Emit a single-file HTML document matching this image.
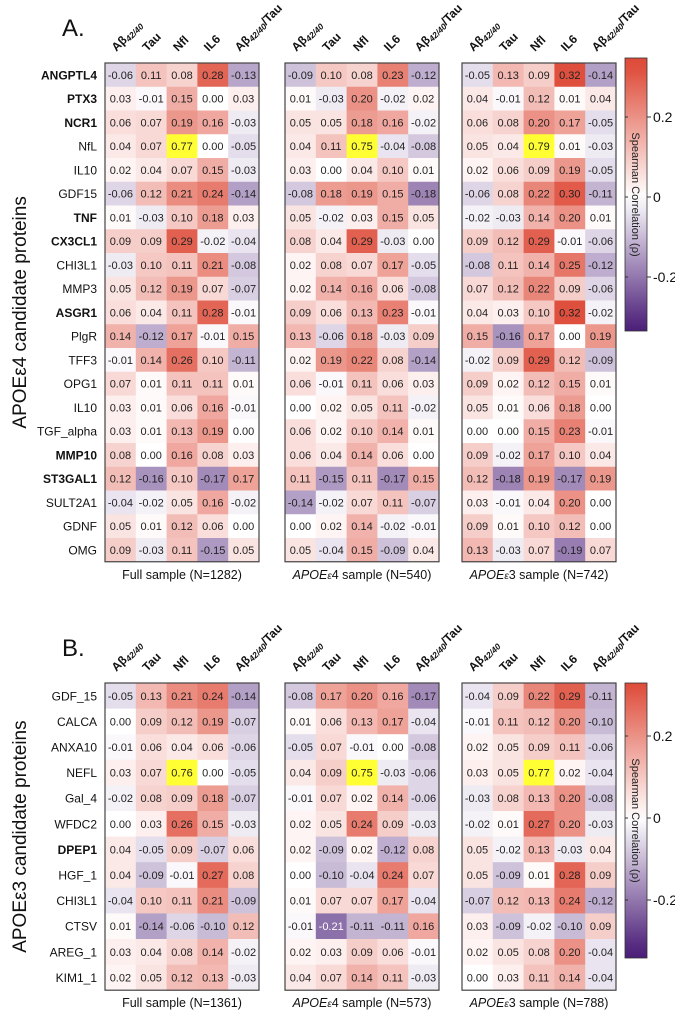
<!DOCTYPE html>
<html><head><meta charset="utf-8">
<style>
html,body{margin:0;padding:0;background:#fff;}
svg{display:block;font-family:"Liberation Sans",Arial,sans-serif;}
</style></head>
<body>
<svg id="fig" width="675" height="1015" viewBox="0 0 675 1015" xmlns="http://www.w3.org/2000/svg"></svg>
<script>
const columnLabels = ["Aβ|42/40","Tau","Nfl","IL6","Aβ|42/40|/Tau"];
const proteinsA = ["ANGPTL4","PTX3","NCR1","NfL","IL10","GDF15","TNF","CX3CL1","CHI3L1","MMP3","ASGR1","PlgR","TFF3","OPG1","IL10","TGF_alpha","MMP10","ST3GAL1","SULT2A1","GDNF","OMG"];
const boldA = ["ANGPTL4","PTX3","NCR1","TNF","CX3CL1","ASGR1","MMP10","ST3GAL1"];
const fullA = [[-0.06,0.11,0.08,0.28,-0.13],[0.03,-0.01,0.15,0.00,0.03],[0.06,0.07,0.19,0.16,-0.03],[0.04,0.07,0.77,0.00,-0.05],[0.02,0.04,0.07,0.15,-0.03],[-0.06,0.12,0.21,0.24,-0.14],[0.01,-0.03,0.10,0.18,0.03],[0.09,0.09,0.29,-0.02,-0.04],[-0.03,0.10,0.11,0.21,-0.08],[0.05,0.12,0.19,0.07,-0.07],[0.06,0.04,0.11,0.28,-0.01],[0.14,-0.12,0.17,-0.01,0.15],[-0.01,0.14,0.26,0.10,-0.11],[0.07,0.01,0.11,0.11,0.01],[0.03,0.01,0.06,0.16,-0.01],[0.03,0.01,0.13,0.19,0.00],[0.08,0.00,0.16,0.08,0.03],[0.12,-0.16,0.10,-0.17,0.17],[-0.04,-0.02,0.05,0.16,-0.02],[0.05,0.01,0.12,0.06,0.00],[0.09,-0.03,0.11,-0.15,0.05]];
const e4A = [[-0.09,0.10,0.08,0.23,-0.12],[0.01,-0.03,0.20,-0.02,0.02],[0.05,0.05,0.18,0.16,-0.02],[0.04,0.11,0.75,-0.04,-0.08],[0.03,0.00,0.04,0.10,0.01],[-0.08,0.18,0.19,0.15,-0.18],[0.05,-0.02,0.03,0.15,0.05],[0.08,0.04,0.29,-0.03,0.00],[0.02,0.08,0.07,0.17,-0.05],[0.02,0.14,0.16,0.06,-0.08],[0.09,0.06,0.13,0.23,-0.01],[0.13,-0.06,0.18,-0.03,0.09],[0.02,0.19,0.22,0.08,-0.14],[0.06,-0.01,0.11,0.06,0.03],[0.00,0.02,0.05,0.11,-0.02],[0.06,0.02,0.10,0.14,0.01],[0.06,0.04,0.14,0.06,0.00],[0.11,-0.15,0.11,-0.17,0.15],[-0.14,-0.02,0.07,0.11,-0.07],[0.00,0.02,0.14,-0.02,-0.01],[0.05,-0.04,0.15,-0.09,0.04]];
const e3A = [[-0.05,0.13,0.09,0.32,-0.14],[0.04,-0.01,0.12,0.01,0.04],[0.06,0.08,0.20,0.17,-0.05],[0.05,0.04,0.79,0.01,-0.03],[0.02,0.06,0.09,0.19,-0.05],[-0.06,0.08,0.22,0.30,-0.11],[-0.02,-0.03,0.14,0.20,0.01],[0.09,0.12,0.29,-0.01,-0.06],[-0.08,0.11,0.14,0.25,-0.12],[0.07,0.12,0.22,0.09,-0.06],[0.04,0.03,0.10,0.32,-0.02],[0.15,-0.16,0.17,0.00,0.19],[-0.02,0.09,0.29,0.12,-0.09],[0.09,0.02,0.12,0.15,0.01],[0.05,0.01,0.06,0.18,0.00],[0.00,0.00,0.15,0.23,-0.01],[0.09,-0.02,0.17,0.10,0.04],[0.12,-0.18,0.19,-0.17,0.19],[0.03,-0.01,0.04,0.20,0.00],[0.09,0.01,0.10,0.12,0.00],[0.13,-0.03,0.07,-0.19,0.07]];
const proteinsB = ["GDF_15","CALCA","ANXA10","NEFL","Gal_4","WFDC2","DPEP1","HGF_1","CHI3L1","CTSV","AREG_1","KIM1_1"];
const boldB = ["DPEP1"];
const fullB = [[-0.05,0.13,0.21,0.24,-0.14],[0.00,0.09,0.12,0.19,-0.07],[-0.01,0.06,0.04,0.06,-0.06],[0.03,0.07,0.76,0.00,-0.05],[-0.02,0.08,0.09,0.18,-0.07],[0.00,0.03,0.26,0.15,-0.03],[0.04,-0.05,0.09,-0.07,0.06],[0.04,-0.09,-0.01,0.27,0.08],[-0.04,0.10,0.11,0.21,-0.09],[0.01,-0.14,-0.06,-0.10,0.12],[0.03,0.04,0.08,0.14,-0.02],[0.02,0.05,0.12,0.13,-0.03]];
const e4B = [[-0.08,0.17,0.20,0.16,-0.17],[0.01,0.06,0.13,0.17,-0.04],[-0.05,0.07,-0.01,0.00,-0.08],[0.04,0.09,0.75,-0.03,-0.06],[-0.01,0.07,0.02,0.14,-0.06],[0.02,0.05,0.24,0.09,-0.03],[0.02,-0.09,0.02,-0.12,0.08],[0.00,-0.10,-0.04,0.24,0.07],[0.01,0.07,0.07,0.17,-0.04],[-0.01,-0.21,-0.11,-0.11,0.16],[0.02,0.03,0.09,0.06,-0.01],[0.04,0.07,0.14,0.11,-0.03]];
const e3B = [[-0.04,0.09,0.22,0.29,-0.11],[-0.01,0.11,0.12,0.20,-0.10],[0.02,0.05,0.09,0.11,-0.06],[0.03,0.05,0.77,0.02,-0.04],[-0.03,0.08,0.13,0.20,-0.08],[-0.02,0.01,0.27,0.20,-0.03],[0.05,-0.02,0.13,-0.03,0.04],[0.05,-0.09,0.01,0.28,0.09],[-0.07,0.12,0.13,0.24,-0.12],[0.03,-0.09,-0.02,-0.10,0.09],[0.02,0.05,0.08,0.20,-0.04],[0.00,0.03,0.11,0.14,-0.04]];
const colorbarTicks = [0.2, 0, -0.2];
const colorbarTickLabels = ["0.2","0","-0.2"];
const sampleTitlesA = ["Full sample (N=1282)","4 sample (N=540)","3 sample (N=742)"];
const sampleTitlesB = ["Full sample (N=1361)","4 sample (N=573)","3 sample (N=788)"];

const NS="http://www.w3.org/2000/svg";
const svg=document.getElementById('fig');
function mk(tag,attrs,parent){const e=document.createElementNS(NS,tag);for(const k in attrs)e.setAttribute(k,attrs[k]);(parent||svg).appendChild(e);return e;}
const VMAX=0.33;
function color(v){
  if(v>0.4) return "#ffff33";
  let t=Math.max(-1,Math.min(1,v/VMAX));
  let c;
  if(t>=0){c=[255+(222-255)*t,255+(74-255)*t,255+(56-255)*t];}
  else{t=-t;c=[255+(75-255)*t,255+(30-255)*t,255+(120-255)*t];}
  return "rgb("+c.map(x=>Math.round(x)).join(",")+")";
}
const heatX=[105,285,462], heatW=154, colW=heatW/5;

function colHeader(g,x,y,label){
  const parts=label.split("|");
  const t=mk('text',{x:x,y:y,transform:`rotate(-45 ${x} ${y})`,'font-size':'12','font-weight':'bold',fill:'#111'},g);
  
  
  const a=mk('tspan',{},t);a.textContent=parts[0];
  if(parts.length>1){const s=mk('tspan',{'font-size':'8.5','font-style':'italic','dy':'2'},t);s.textContent=parts[1];}
  if(parts.length>2){const r=mk('tspan',{'dy':'-2'},t);r.textContent=parts[2];}
}

function panel(cfg){
  const {top,rowH,proteins,bold,sets,titles,letter,ytitle,cbTop,cbZero,cbPx,cbBottom}=cfg;
  const g=mk('g',{});
  
  
  const L=mk('text',{x:62,y:top-27,'font-size':'24',fill:'#111'},g);L.textContent=letter+".";
  
  
  const nRows=proteins.length, H=nRows*rowH;
  const yc=top+H/2;
  const yt=mk('text',{x:26,y:yc,transform:`rotate(-90 26 ${yc})`,'text-anchor':'middle','font-size':'19',fill:'#111'},g);
  yt.textContent=ytitle;
  
  
  proteins.forEach((p,i)=>{
    const t=mk('text',{x:97,y:top+i*rowH+rowH/2+4.5,'text-anchor':'end','font-size':'12','font-weight':bold.includes(p)?'bold':'normal',fill:'#111'},g);
    t.textContent=p;
    
    
  });
  sets.forEach((data,h)=>{
    const x0=heatX[h];
    const hg=mk('g',{},g);
    
    
    columnLabels.forEach((c,j)=>colHeader(hg,x0+j*colW+colW/2-4,top-11,c));
    data.forEach((row,i)=>row.forEach((v,j)=>{
      const r=mk('rect',{x:x0+j*colW,y:top+i*rowH,width:colW+0.5,height:rowH+0.5,fill:color(v)},hg);
      
      
      const t=mk('text',{x:x0+j*colW+colW/2,y:top+i*rowH+rowH/2+4,'text-anchor':'middle','font-size':'11',fill:v<-0.2?'#fff':'#222'},hg);
      t.textContent=(v<0?"-":"")+Math.abs(v).toFixed(2);
      
      
    }));
    const b=mk('rect',{x:x0,y:top,width:heatW,height:H,fill:'none',stroke:'#444','stroke-width':'1.2'},hg);
    
    
    const tt=mk('text',{x:x0+heatW/2,y:top+H+17,'text-anchor':'middle','font-size':'12.5',fill:'#111'},hg);
    if(h===0){tt.textContent=titles[0];}
    else{const a=mk('tspan',{'font-style':'italic'},tt);a.textContent="APOE";const e=mk('tspan',{'font-style':'italic','font-size':'10'},tt);e.textContent="ε";const r=mk('tspan',{},tt);r.textContent=titles[h];}
    
    
  });
  const cx=625,cw=22;
  const defs=mk('defs',{},g);
  const id='grad'+letter;
  const lg=mk('linearGradient',{id:id,x1:0,y1:0,x2:0,y2:1},defs);
  for(let k=0;k<=20;k++){const f=k/20;const v=(cbZero-(cbTop+f*(cbBottom-cbTop)))/cbPx*0.1;mk('stop',{offset:f,'stop-color':color(v)},lg);}
  const cb=mk('rect',{x:cx,y:cbTop,width:cw,height:cbBottom-cbTop,fill:`url(#${id})`,stroke:'#333','stroke-width':'0.8'},g);
  
  
  colorbarTicks.forEach((tv,k)=>{
    const y=cbZero-tv/0.1*cbPx;
    mk('line',{x1:cx+cw,x2:cx+cw+4,y1:y,y2:y,stroke:'#333'},g);
    mk('line',{x1:cx,x2:cx+3,y1:y,y2:y,stroke:'#333'},g);
    const t=mk('text',{x:cx+cw+6,y:y+5,'font-size':'14',fill:'#111'},g);
    t.textContent=colorbarTickLabels[k];
    
    
  });
  const ly=(cbTop+cbBottom)/2, lx=cx+cw/2-4;
  const lt=mk('text',{x:lx,y:ly,transform:`rotate(90 ${lx} ${ly})`,'text-anchor':'middle','font-size':'11',fill:'#222'},g);
  lt.textContent="Spearman Correlation (ρ)";
  
  
}
panel({top:63,rowH:23.75,proteins:proteinsA,bold:boldA,sets:[fullA,e4A,e3A],titles:sampleTitlesA,letter:"A",ytitle:"APOEε4 candidate proteins",cbTop:58,cbZero:197,cbPx:40,cbBottom:331});
panel({top:683,rowH:25.6,proteins:proteinsB,bold:boldB,sets:[fullB,e4B,e3B],titles:sampleTitlesB,letter:"B",ytitle:"APOEε3 candidate proteins",cbTop:683,cbZero:818,cbPx:41,cbBottom:958});
</script>
</body></html>
